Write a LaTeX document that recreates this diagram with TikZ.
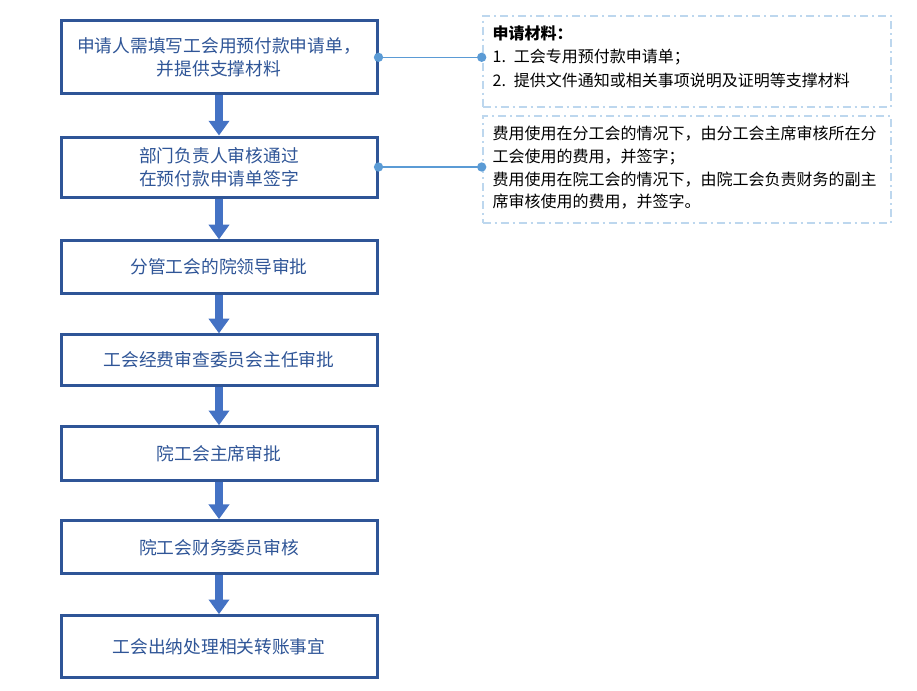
\documentclass[tikz,border=0pt]{standalone}
\usepackage{fontspec}
\setmainfont{Noto Sans CJK SC}
\usetikzlibrary{arrows.meta}
\definecolor{boxblue}{HTML}{2F5597}
\definecolor{arrowblue}{HTML}{4472C4}
\definecolor{linkblue}{HTML}{5B9BD5}
\definecolor{noteblue}{HTML}{BDD7EE}

\begin{document}
\begin{tikzpicture}[x=0.75pt, y=-0.75pt,
        stepbox/.style={rectangle, draw=boxblue, line width=2.25pt, fill=white, text=boxblue,
            minimum width=237pt, inner sep=0pt, align=center, font=\fontsize{13.3}{17}\selectfont},
        note/.style={rectangle, draw=noteblue, line width=1.5pt,
            dash pattern=on 6pt off 3pt on 1.5pt off 3pt, minimum width=306pt},
        notetext/.style={anchor=north west, inner sep=0pt, text width=294pt, align=left,
            font=\fontsize{12}{17}\selectfont},
        flow/.style={draw=arrowblue, line width=6pt, -{Triangle[length=11pt, width=15pt]}},
        link/.style={draw=linkblue, line width=0.8pt}]
        \useasboundingbox (0,0) rectangle (917,690);

        % main flow
        \node[stepbox, minimum height=55pt] (b1) at (219,57.3) {申请人需填写工会用预付款申请单，\\并提供支撑材料};
        \node[stepbox, minimum height=45pt] (b2) at (219,167) {部门负责人审核通过\\在预付款申请单签字};
        \node[stepbox, minimum height=39.2pt] (b3) at (219,267) {分管工会的院领导审批};
        \node[stepbox, minimum height=37.7pt] (b4) at (219,360) {工会经费审查委员会主任审批};
        \node[stepbox, minimum height=40pt] (b5) at (219,453.4) {院工会主席审批};
        \node[stepbox, minimum height=40pt] (b6) at (219,547.3) {院工会财务委员审核};
        \node[stepbox, minimum height=46.2pt] (b7) at (219,646.5) {工会出纳处理相关转账事宜};

        \draw[flow] (b1) -- (b2);
        \draw[flow] (b2) -- (b3);
        \draw[flow] (b3) -- (b4);
        \draw[flow] (b4) -- (b5);
        \draw[flow] (b5) -- (b6);
        \draw[flow] (b6) -- (b7);

        % notes
        \node[note, minimum height=68.25pt] (c1) at (686.7,61.2) {};
        \node[notetext, font=\fontsize{12}{17.7}\selectfont] (c1t) at ([xshift=8pt, yshift=-8pt]c1.north west) {\textbf{申请材料：}\\1. 工会专用预付款申请单；\\2. 提供文件通知或相关事项说明及证明等支撑材料};
        \node[note, minimum height=80.25pt] (c2) at (686.7,169.5) {};
        \node[notetext] (c2t) at ([xshift=8pt, yshift=-8.3pt]c2.north west) {费用使用在分工会的情况下，由分工会主席审核所在分\\工会使用的费用，并签字；\\费用使用在院工会的情况下，由院工会负责财务的副主\\席审核使用的费用，并签字。};

        \draw[link] (b1.east) -- (c1.west |- b1.east);
        \fill[linkblue] (b1.east) circle (3.5pt) (c1.west |- b1.east) circle (3.5pt);
        \draw[link] (b2.east) -- (c2.west |- b2.east);
        \fill[linkblue] (b2.east) circle (3.5pt) (c2.west |- b2.east) circle (3.5pt);
    \end{tikzpicture}
\end{document}
